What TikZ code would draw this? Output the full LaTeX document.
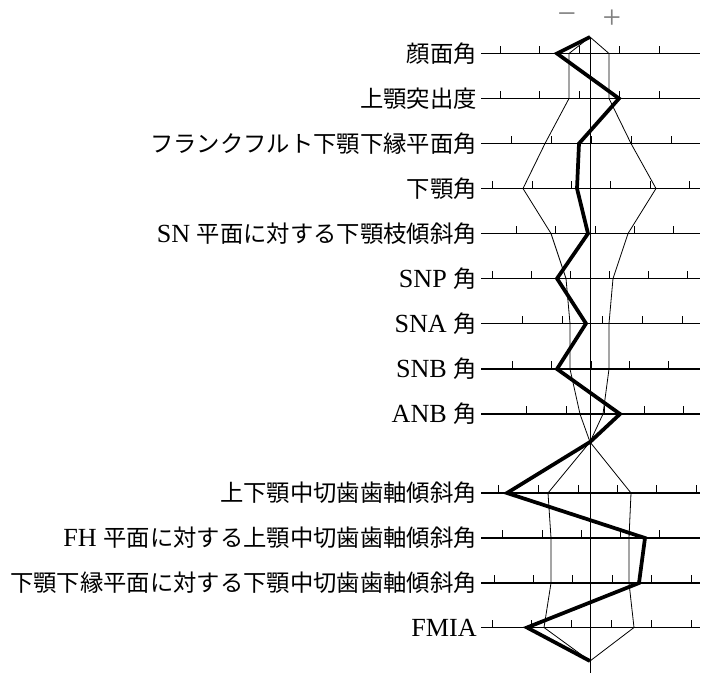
\documentclass[tikz,border=0pt]{standalone}
\usepackage{fontspec}
\setmainfont[Scale=1.12]{Liberation Serif}
\newfontfamily\cjk{Noto Sans CJK JP}
\newcommand\jp[1]{{\cjk #1}}
\tikzset{
  axisline/.style={line width=1.4pt},
  tick/.style={line width=0.7pt},
  sdline/.style={line width=0.6pt},
  meanline/.style={line width=2.8pt, line join=miter},
  sign/.style={gray, font=\fontsize{22}{22}\selectfont},
  rowlabel/.style={anchor=east, inner sep=0pt, font=\fontsize{17.5}{19}\selectfont}
}
\begin{document}
\begin{tikzpicture}[x=0.75pt,y=-0.75pt]
\useasboundingbox (0,0) rectangle (714,687);

% center axis
\coordinate (top) at (590,37);
\coordinate (pivot) at (590,442);
\coordinate (bot) at (590,661);
\draw[sdline] (590,37) coordinate (ctop) -- (590,673) coordinate (cbot);
\node[sign] (minus) at (567,19) {−};
\node[sign] (plus) at (612,19) {+};

% rows: name/y/label
\foreach \n/\y/\t in {
  1/53.5/\jp{顔面角},
  2/98.5/\jp{上顎突出度},
  3/143.5/\jp{フランクフルト下顎下縁平面角},
  4/188.5/\jp{下顎角},
  5/233.5/{SN \jp{平面に対する下顎枝傾斜角}},
  6/278.5/{SNP \jp{角}},
  7/323.5/{SNA \jp{角}},
  8/369/{SNB \jp{角}},
  9/414/{ANB \jp{角}},
  10/493/\jp{上下顎中切歯歯軸傾斜角},
  11/538/{FH \jp{平面に対する上顎中切歯歯軸傾斜角}},
  12/583/\jp{下顎下縁平面に対する下顎中切歯歯軸傾斜角},
  13/627.5/FMIA}{
  \node[rowlabel] (l\n) at (477,\y) {\t};
  \coordinate (a\n) at (481,\y);
  \coordinate (b\n) at (700,\y);
  \draw[axisline] (a\n) -- (b\n);
}

% ticks
\foreach \y/\xs in {
  53.5/{500,539,579,619,659},
  98.5/{500,539,579,619,659},
  143.5/{511,551,591,631,671},
  188.5/{492,532,571,610,650,689},
  233.5/{516,555,595,634,673},
  278.5/{492,531,570,609,648,687},
  323.5/{522,562,602,642,682},
  369/{512,551,591,629,668},
  414/{526,566,604,644,683},
  493/{498,538,578,617,656,696},
  538/{502,542,581,620,659},
  583/{494,533,572,612,651,691},
  627.5/{492,531,571,611,651,691}}{
  \foreach \x in \xs
    \draw[tick] (\x,\y) -- (\x,\y-8);
}

% polygon points: row/y/minus/plus/mean
\foreach \n/\y/\lo/\hi/\m in {
  1/53.5/569/609/557, 2/98.5/569/609/619, 3/143.5/545/631/579,
  4/188.5/523/656/577, 5/233.5/551/628/588, 6/278.5/566/613/557,
  7/323.5/570/609/586, 8/369/570/609/557, 9/414/580/603/620,
  10/493/548/631/507, 11/538/551/629/645, 12/583/551/629/639,
  13/627.5/544/634/527}{
  \coordinate (lo\n) at (\lo,\y);
  \coordinate (hi\n) at (\hi,\y);
  \coordinate (m\n) at (\m,\y);
}

\draw[sdline] (top) -- (lo1) -- (lo2) -- (lo3) -- (lo4) -- (lo5) -- (lo6) -- (lo7)
  -- (lo8) -- (lo9) -- (pivot) -- (lo10) -- (lo11) -- (lo12) -- (lo13) -- (bot);
\draw[sdline] (top) -- (hi1) -- (hi2) -- (hi3) -- (hi4) -- (hi5) -- (hi6) -- (hi7)
  -- (hi8) -- (hi9) -- (pivot) -- (hi10) -- (hi11) -- (hi12) -- (hi13) -- (bot);
\draw[meanline] (top) -- (m1) -- (m2) -- (m3) -- (m4) -- (m5) -- (m6) -- (m7)
  -- (m8) -- (m9) -- (pivot) -- (m10) -- (m11) -- (m12) -- (m13) -- (bot);
\end{tikzpicture}
\end{document}
